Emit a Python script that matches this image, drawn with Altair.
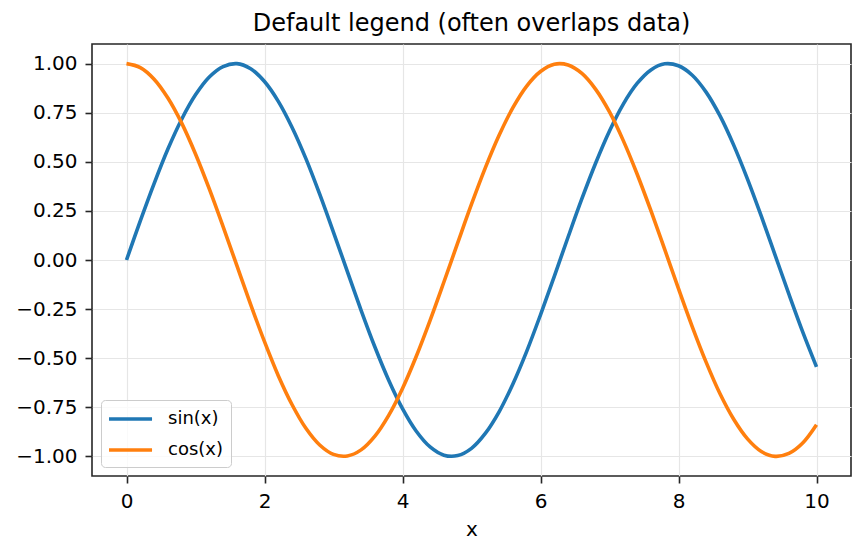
import altair as alt
import pandas as pd

X = [0.0, 0.2, 0.4, 0.6, 0.8, 1.0, 1.2, 1.4, 1.6, 1.8,
     2.0, 2.2, 2.4, 2.6, 2.8, 3.0, 3.2, 3.4, 3.6, 3.8,
     4.0, 4.2, 4.4, 4.6, 4.8, 5.0, 5.2, 5.4, 5.6, 5.8,
     6.0, 6.2, 6.4, 6.6, 6.8, 7.0, 7.2, 7.4, 7.6, 7.8,
     8.0, 8.2, 8.4, 8.6, 8.8, 9.0, 9.2, 9.4, 9.6, 9.8, 10.0]

SIN = [0.000, 0.199, 0.389, 0.565, 0.717, 0.841, 0.932, 0.985, 1.000, 0.974,
       0.909, 0.808, 0.675, 0.516, 0.335, 0.141, -0.058, -0.256, -0.443, -0.612,
       -0.757, -0.872, -0.952, -0.994, -0.996, -0.959, -0.883, -0.773, -0.631, -0.465,
       -0.279, -0.083, 0.117, 0.312, 0.494, 0.657, 0.794, 0.899, 0.968, 0.999,
       0.989, 0.941, 0.855, 0.735, 0.585, 0.412, 0.223, 0.025, -0.174, -0.366, -0.544]

COS = [1.000, 0.980, 0.921, 0.825, 0.697, 0.540, 0.362, 0.170, -0.029, -0.227,
       -0.416, -0.589, -0.737, -0.857, -0.942, -0.990, -0.998, -0.967, -0.897, -0.791,
       -0.654, -0.490, -0.307, -0.112, 0.087, 0.284, 0.469, 0.635, 0.776, 0.886,
       0.960, 0.997, 0.993, 0.950, 0.869, 0.754, 0.608, 0.438, 0.251, 0.054,
       -0.146, -0.340, -0.520, -0.680, -0.811, -0.911, -0.975, -1.000, -0.985, -0.932, -0.839]

SERIES = ["sin(x)", "cos(x)"]
COLORS = ["#1f77b4", "#ff7f0e"]
X_TICKS = [0, 2, 4, 6, 8, 10]
Y_TICKS = [-1.0, -0.75, -0.5, -0.25, 0.0, 0.25, 0.5, 0.75, 1.0]

rows = []
for name, vals in zip(SERIES, [SIN, COS]):
    for xv, yv in zip(X, vals):
        rows.append({"x": xv, "y": yv, "series": name})
df = pd.DataFrame(rows)

FONT = "DejaVu Sans"

chart = alt.Chart(df).mark_line(strokeWidth=3.6, interpolate="catmull-rom").encode(
    x=alt.X("x:Q", title="x",
            scale=alt.Scale(domain=[-0.5, 10.5], nice=False, zero=False),
            axis=alt.Axis(values=X_TICKS, format="d", labelPadding=8, titlePadding=8)),
    y=alt.Y("y:Q", title=None,
            scale=alt.Scale(domain=[-1.1, 1.1], nice=False, zero=False),
            axis=alt.Axis(values=Y_TICKS, format=".2f", labelPadding=8)),
    color=alt.Color("series:N",
                    scale=alt.Scale(domain=SERIES, range=COLORS),
                    sort=SERIES,
                    legend=alt.Legend(
                        title=None, orient="bottom-left", offset=9,
                        symbolType="M-1.22,0H3.56", symbolSize=324,
                        symbolStrokeWidth=3.5, symbolFillColor="transparent",
                        labelFontSize=18, labelFont=FONT, labelColor="#000000",
                        labelOffset=37, rowPadding=11, padding=8,
                        fillColor="rgba(255,255,255,0.8)", strokeColor="#cccccc",
                        cornerRadius=4)),
).properties(
    width=759, height=432,
    title=alt.Title("Default legend (often overlaps data)", fontSize=24, font=FONT,
                    fontWeight="normal", color="#000000", offset=8, anchor="middle"),
    autosize=alt.AutoSizeParams(type="none"),
    padding={"left": 92, "top": 44, "right": 14, "bottom": 78},
).configure_view(
    stroke="#262626", strokeWidth=1.6
).configure_axis(
    labelFont=FONT, titleFont=FONT, labelFontSize=20, titleFontSize=20,
    titleFontWeight="normal", labelColor="#000000", titleColor="#000000",
    domain=False, tickColor="#262626", tickWidth=1.6, tickSize=7,
    grid=True, gridColor="#e6e6e6", gridWidth=1.2,
)

chart.save("out.html", embed_options={"renderer": "svg", "actions": False})
